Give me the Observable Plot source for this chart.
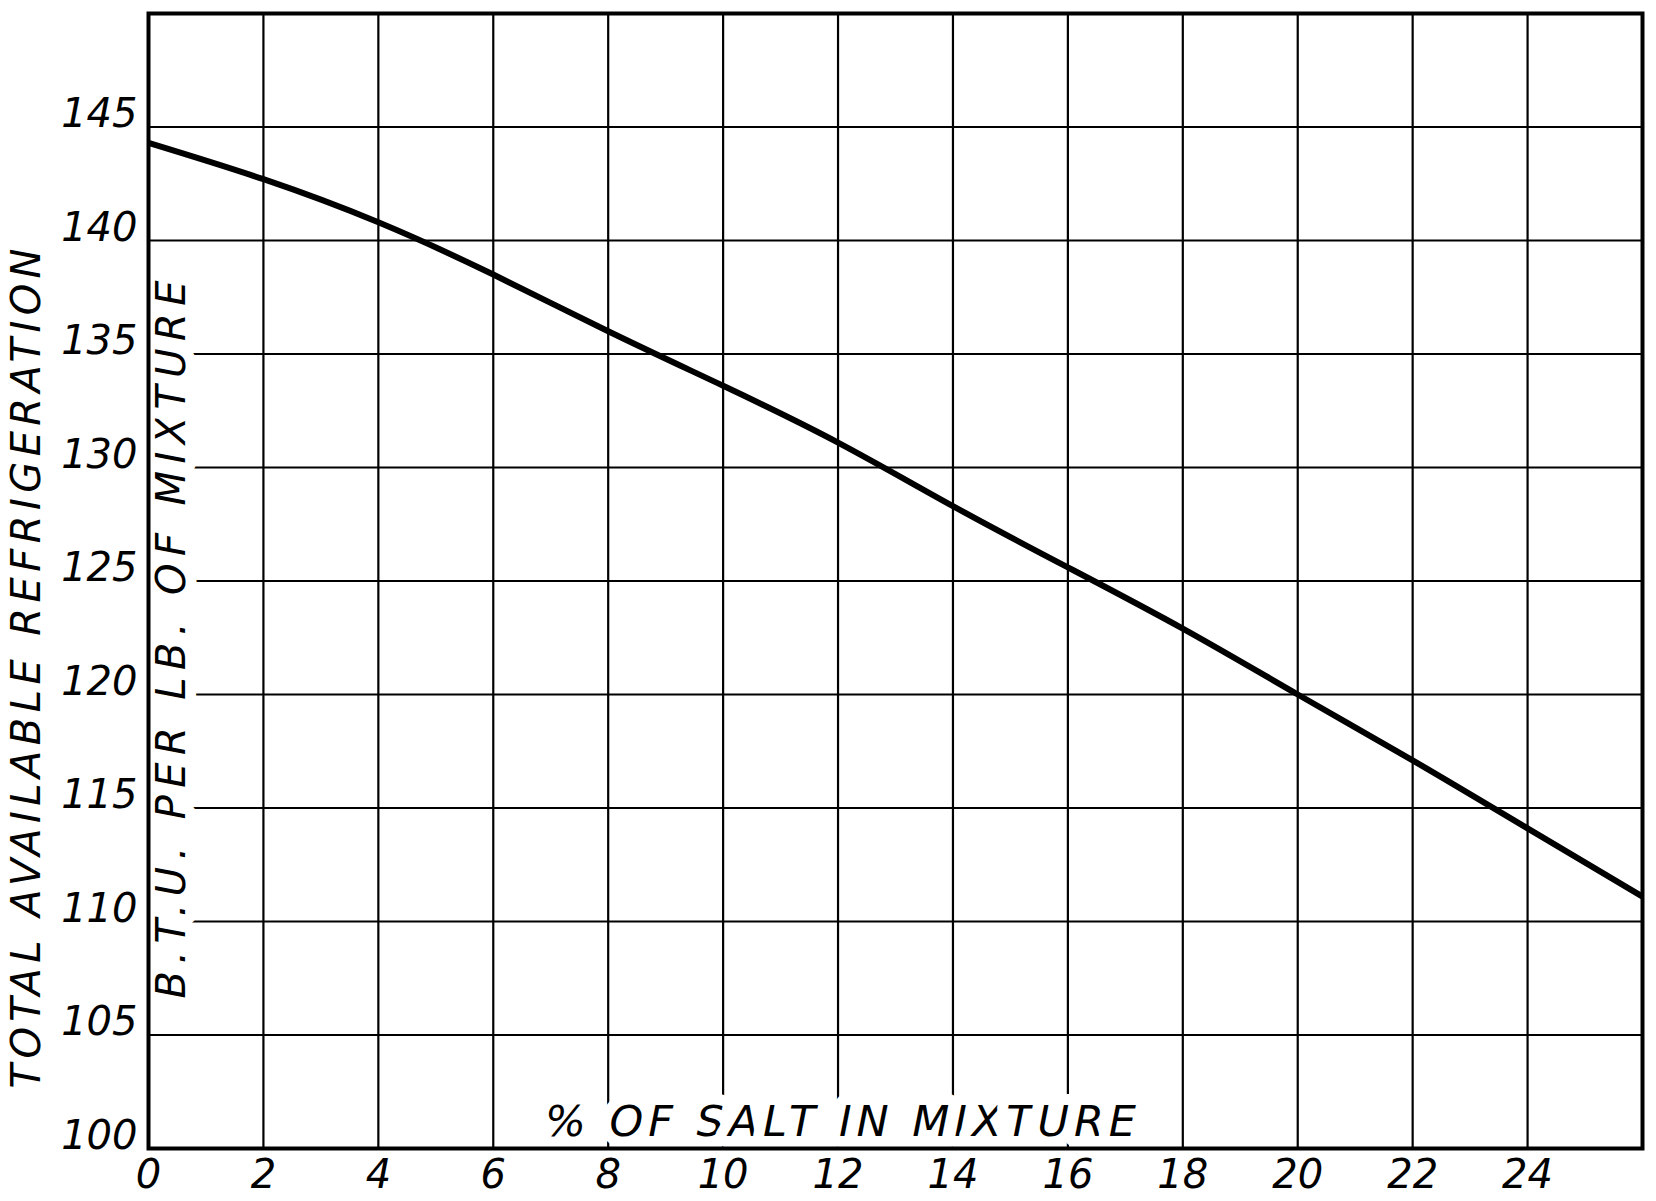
<!DOCTYPE html>
<html>
<head>
<meta charset="utf-8">
<script src="https://cdn.jsdelivr.net/npm/d3@7"></script>
<script src="https://cdn.jsdelivr.net/npm/@observablehq/plot@0.6"></script>
<style>
  html, body { margin: 0; padding: 0; background: #fff; }
</style>
</head>
<body>
<div id="chart"></div>
<script>
// Data
const saltPercent = [0, 2, 4, 6, 8, 10, 12, 14, 16, 18, 20, 22, 24, 26];
const btuPerLb    = [144.3, 142.7, 140.8, 138.5, 136.0, 133.6, 131.1, 128.3, 125.6, 122.9, 120.0, 117.1, 114.1, 111.1];

const xTickLabels = [0, 2, 4, 6, 8, 10, 12, 14, 16, 18, 20, 22, 24];
const yTickLabels = [100, 105, 110, 115, 120, 125, 130, 135, 140, 145];
const xGridLines  = [2, 4, 6, 8, 10, 12, 14, 16, 18, 20, 22, 24];
const yGridLines  = [105, 110, 115, 120, 125, 130, 135, 140, 145];

const yTitleOuter = "TOTAL AVAILABLE REFRIGERATION";
const yTitleInner = "B.T.U. PER LB. OF MIXTURE";
const xTitle      = "% OF SALT IN MIXTURE";

const rows = saltPercent.map((s, i) => ({salt: s, btu: btuPerLb[i]}));

const halo = {stroke: "white", strokeWidth: 22, strokeLinejoin: "round", fill: "black"};

const chart = Plot.plot({
  width: 1656,
  height: 1201,
  marginLeft: 148,
  marginRight: 14,
  marginTop: 13,
  marginBottom: 53,
  style: {fontFamily: "'DejaVu Sans', sans-serif", fontStyle: "italic", background: "white", color: "black"},
  x: {domain: [0, 26]},
  y: {domain: [100, 150]},
  marks: [
    Plot.ruleX(xGridLines, {stroke: "black", strokeWidth: 2.2}),
    Plot.ruleY(yGridLines, {stroke: "black", strokeWidth: 2.2}),
    Plot.text([yTitleInner], {text: d => d, frameAnchor: "left", dx: 24, dy: 58.5, rotate: -90,
      fontSize: 40, textAnchor: "middle", lineAnchor: "middle", ...halo}),
    Plot.text([xTitle], {text: d => d, frameAnchor: "bottom", dx: -55, dy: -13,
      fontSize: 43, textAnchor: "middle", lineAnchor: "bottom", ...halo}),
    Plot.text([yTitleOuter], {text: d => d, frameAnchor: "left", dx: -121, dy: 87.5, rotate: -90,
      fontSize: 40, textAnchor: "middle", lineAnchor: "middle", fill: "black"}),
    Plot.line(rows, {x: "salt", y: "btu", curve: "natural", stroke: "black", strokeWidth: 6, strokeLinecap: "butt"}),
    Plot.frame({stroke: "black", strokeWidth: 4}),
    Plot.axisX(xTickLabels, {tickSize: 0, tickPadding: 11, fontSize: 40, label: null, lineAnchor: "top"}),
    Plot.axisY(yTickLabels, {tickSize: 0, tickPadding: 11, fontSize: 40, label: null, lineAnchor: "bottom", textAnchor: "end"})
  ]
});

document.getElementById("chart").appendChild(chart);

// Stretch the hand-lettered titles to the lengths they occupy in the reference
const lengths = {[yTitleOuter]: 840, [yTitleInner]: 718, [xTitle]: 591};
d3.select(chart).selectAll("text").each(function() {
  const L = lengths[this.textContent];
  if (L) {
    this.setAttribute("textLength", L);
    this.setAttribute("lengthAdjust", "spacing");
  }
});
</script>
</body>
</html>
